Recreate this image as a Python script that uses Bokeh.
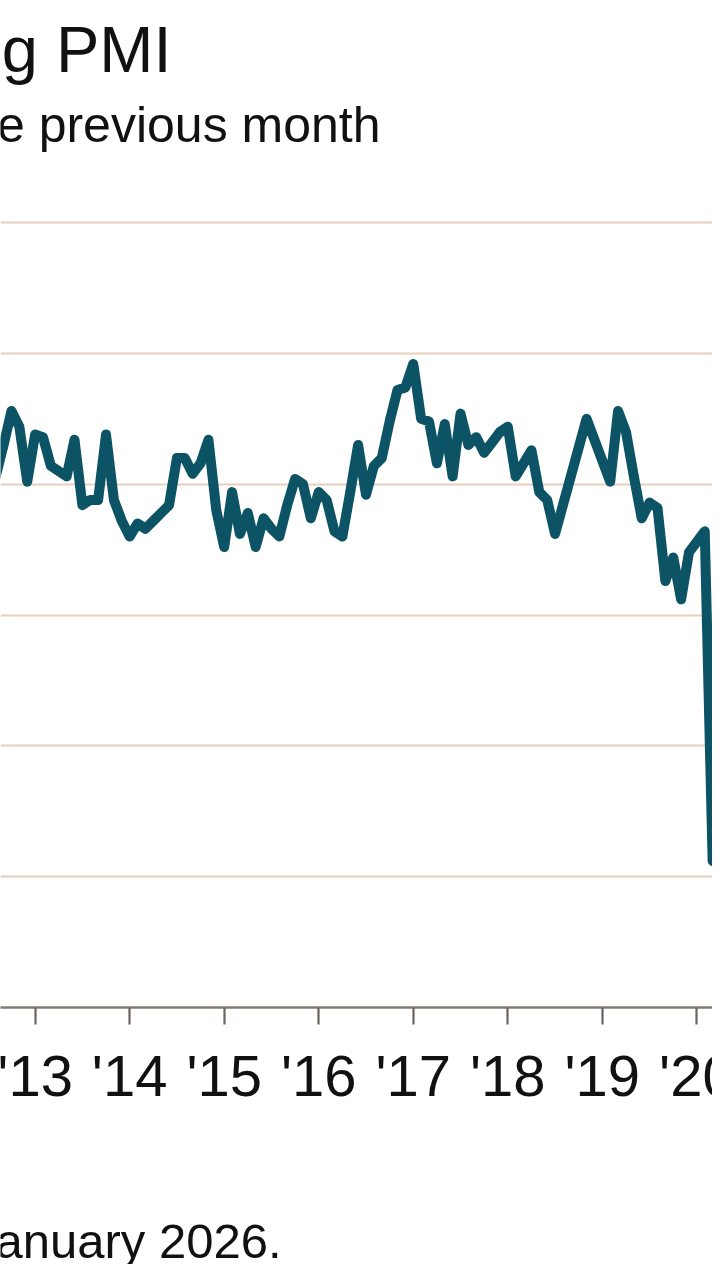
from bokeh.plotting import figure
from bokeh.models import Label, Grid, FixedTicker, Range1d
from bokeh.layouts import column
from bokeh.embed import file_html
from bokeh.resources import INLINE

# Monthly PMI readings, July 2012 .. March 2020
first_year, first_month = 2012, 7
pmi = [
    50.0, 50.3, 51.5, 52.8, 52.2, 50.1,                                  # 2012 (Jul-Dec)
    51.9, 51.8, 50.7, 50.5, 50.3, 51.7, 49.2, 49.4, 49.4, 51.9, 49.4, 48.6,  # 2013
    48.0, 48.5, 48.3, 48.6, 48.9, 49.2, 51.0, 51.0, 50.4, 50.8, 51.7, 49.0,  # 2014
    47.6, 49.7, 48.1, 48.9, 47.6, 48.7, 48.3, 48.0, 49.2, 50.2, 50.0, 48.7,  # 2015
    49.7, 49.4, 48.2, 48.0, 49.7, 51.5, 49.6, 50.7, 51.0, 52.4, 53.6, 53.7,  # 2016
    54.6, 52.5, 52.4, 50.8, 52.3, 50.3, 52.7, 51.5, 51.8, 51.2, 51.6, 52.0,  # 2017
    52.2, 50.3, 50.8, 51.3, 49.7, 49.4, 48.1, 49.2, 50.3, 51.4, 52.5, 51.7,  # 2018
    50.9, 50.1, 52.8, 52.0, 50.3, 48.7, 49.3, 49.1, 46.3, 47.2, 45.6, 47.4,  # 2019
    47.8, 48.2, 35.6,                                                      # 2020 (Jan-Mar)
]
tick_years = [2013, 2014, 2015, 2016, 2017, 2018, 2019, 2020]
tick_labels = ["'13", "'14", "'15", "'16", "'17", "'18", "'19", "'20"]
grid_values = [35, 40, 45, 50, 55, 60]

title_text = "ng PMI"
subtitle_text = "e previous month"
footer_text = "anuary 2026."

xs = [first_year + (first_month - 1 + i) / 12 for i in range(len(pmi))]

FONT = "Liberation Sans"
W = 712
FRAME_H = 1007          # plot frame height (top of canvas to x-axis line)
H1 = 1030               # main figure: frame + axis ticks
H2 = 1264 - H1          # strip below: tick labels and source note
Y0, Y1 = 30, 68.49

xr = Range1d(2012.6339, 2020.1653)

p = figure(width=W, height=H1, output_backend="svg", toolbar_location=None,
           title=None, y_axis_location=None,
           x_range=xr, y_range=Range1d(Y0, Y1),
           min_border_left=0, min_border_right=0, min_border_top=0,
           min_border_bottom=H1 - FRAME_H)
p.background_fill_color = "white"
p.border_fill_color = "white"
p.outline_line_color = None
p.grid.visible = False

p.add_layout(Grid(dimension=1, ticker=FixedTicker(ticks=grid_values),
                  grid_line_color="#e6cfbb", grid_line_width=2))

xa = p.xaxis[0]
xa.ticker = FixedTicker(ticks=tick_years)
xa.major_label_overrides = {y: "" for y in tick_years}
xa.major_label_text_font_size = "0px"
xa.major_label_standoff = 0
xa.axis_line_color = "#857c73"
xa.axis_line_width = 2.5
xa.major_tick_line_color = "#6a655f"
xa.major_tick_line_width = 2.2
xa.major_tick_in = 0
xa.major_tick_out = 17
xa.minor_tick_line_color = None

p.line(xs, pmi, line_color="#0c5365", line_width=10, line_join="round", line_cap="round")

p.add_layout(Label(x=171, y=66.62, x_units="screen", y_units="data", text=title_text,
                   text_font=FONT, text_font_size="65px", text_color="#111111",
                   text_align="right", text_baseline="alphabetic"))
p.add_layout(Label(x=380, y=63.72, x_units="screen", y_units="data", text=subtitle_text,
                   text_font=FONT, text_font_size="50px", text_color="#111111",
                   text_align="right", text_baseline="alphabetic"))

# strip under the axis: year labels on the same x scale, and the source note
p2 = figure(width=W, height=H2, output_backend="svg", toolbar_location=None,
            title=None, x_axis_location=None, y_axis_location=None,
            x_range=xr, y_range=Range1d(0, H2),
            min_border_left=0, min_border_right=0, min_border_top=0, min_border_bottom=0)
p2.background_fill_color = "white"
p2.border_fill_color = "white"
p2.outline_line_color = None
p2.grid.visible = False

for yr, lab in zip(tick_years, tick_labels):
    p2.add_layout(Label(x=yr, y=189, x_units="data", y_units="data", text=lab,
                        text_font=FONT, text_font_size="58px", text_color="#111111",
                        text_align="center", text_baseline="alphabetic"))

p2.add_layout(Label(x=281, y=24, x_units="screen", y_units="data", text=footer_text,
                    text_font=FONT, text_font_size="49px", text_color="#111111",
                    text_align="right", text_baseline="alphabetic"))

layout = column(p, p2, spacing=0)
open("out.html", "w").write(file_html(layout, INLINE))
